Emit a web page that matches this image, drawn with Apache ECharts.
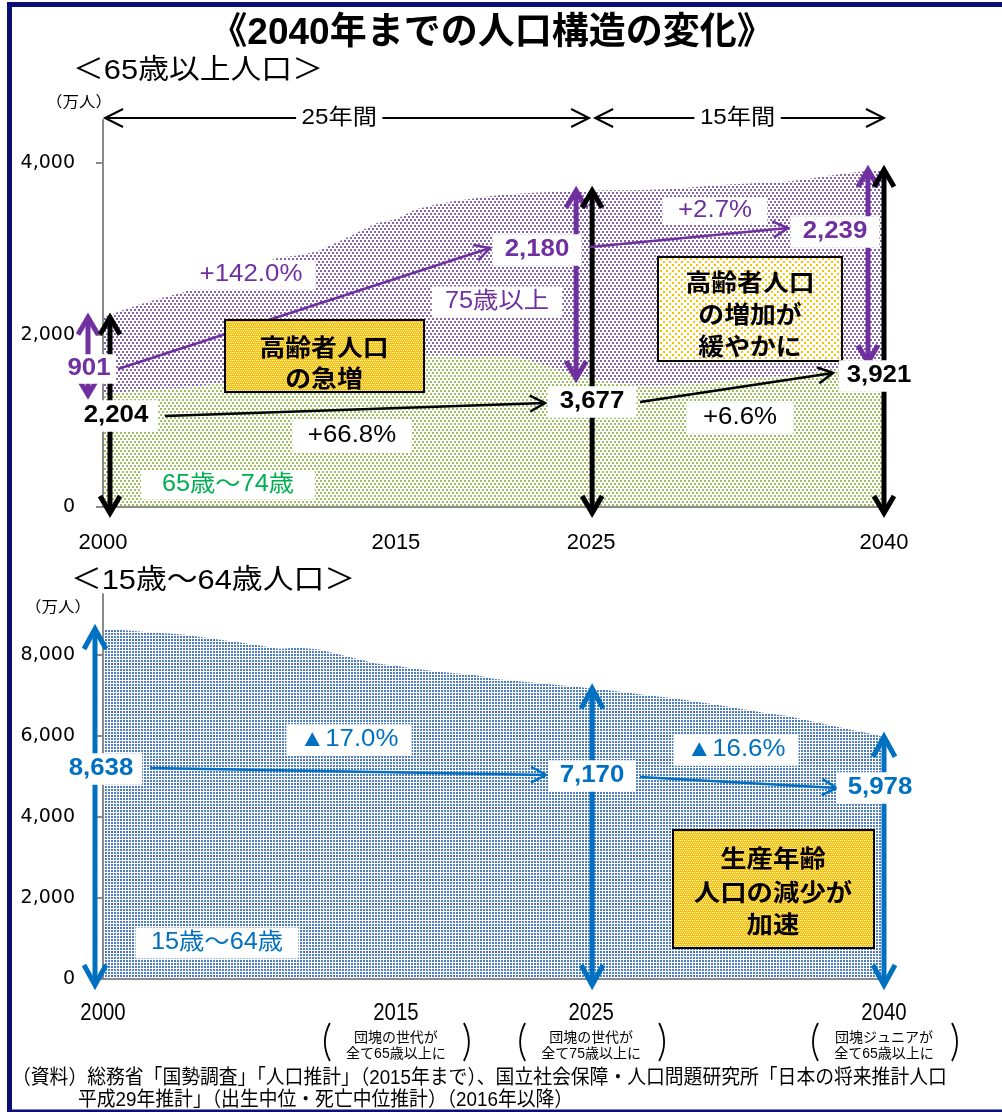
<!DOCTYPE html>
<html lang="ja">
<head>
<meta charset="utf-8">
<title>2040年までの人口構造の変化</title>
<script src="https://cdn.jsdelivr.net/npm/echarts@6/dist/echarts.min.js"></script>
<style>
  html, body { margin: 0; padding: 0; background: #ffffff; }
  #chart { width: 1002px; height: 1112px; }
</style>
</head>
<body>
<div id="chart"></div>
<script>
// ---- Data (万人) ----
const years = [2000, 2001, 2002, 2003, 2004, 2005, 2006, 2007, 2008, 2009,
               2010, 2011, 2012, 2013, 2014, 2015, 2016, 2017, 2018, 2019,
               2020, 2021, 2022, 2023, 2024, 2025, 2026, 2027, 2028, 2029,
               2030, 2031, 2032, 2033, 2034, 2035, 2036, 2037, 2038, 2039,
               2040];
// 65歳～74歳
const pop65to74 = [1303, 1338, 1359, 1376, 1378, 1407, 1443, 1476, 1500, 1530,
                   1518, 1505, 1560, 1630, 1708, 1734, 1768, 1767, 1760, 1739,
                   1747, 1760, 1699, 1619, 1550, 1497, 1455, 1424, 1413, 1417,
                   1428, 1450, 1474, 1498, 1514, 1522, 1548, 1582, 1622, 1660,
                   1682];
// 75歳以上
const pop75plus = [901, 949, 1004, 1055, 1110, 1160, 1217, 1270, 1322, 1371,
                   1407, 1470, 1519, 1560, 1592, 1613, 1691, 1748, 1798, 1849,
                   1872, 1880, 1954, 2043, 2118, 2180, 2227, 2260, 2275, 2281,
                   2288, 2283, 2275, 2265, 2260, 2260, 2264, 2263, 2255, 2245,
                   2239];
// 15歳～64歳
const pop15to64 = [8638, 8614, 8571, 8540, 8508, 8442, 8373, 8301, 8230, 8149,
                   8174, 8134, 8018, 7901, 7785, 7728, 7656, 7596, 7545, 7507,
                   7406, 7359, 7315, 7266, 7224, 7170, 7117, 7056, 6993, 6938,
                   6875, 6801, 6722, 6640, 6559, 6494, 6389, 6285, 6182, 6080,
                   5978];

const xTickYears = [2000, 2015, 2025, 2040];
const topYTicks = [0, 2000, 4000];
const bottomYTicks = [0, 2000, 4000, 6000, 8000];
const milestoneNotes = [
  [2015, '団塊の世代が', '全て65歳以上に'],
  [2025, '団塊の世代が', '全て75歳以上に'],
  [2040, '団塊ジュニアが', '全て65歳以上に']
];

// ---- Helpers ----
const LAT = '"Liberation Sans", "Noto Sans CJK JP", sans-serif';
const JP = '"Noto Sans CJK JP", sans-serif';
const PURPLE = '#7030A0', GREEN = '#00B050', BLUE = '#0070C0', BLACK = '#000000';
const AXIS_GRAY = '#8a8a8a';

function dots(w, h, bg, fg, cells) {
  const c = document.createElement('canvas');
  c.width = w; c.height = h;
  const g = c.getContext('2d');
  if (bg) { g.fillStyle = bg; g.fillRect(0, 0, w, h); }
  g.fillStyle = fg;
  cells.forEach(r => g.fillRect(r[0], r[1], r[2], r[3]));
  return { image: c, repeat: 'repeat' };
}
const purpleDots = dots(4, 6, '#ffffff', '#8265ab', [[0, 0, 2, 2], [2, 3, 2, 2]]);
const greenDots = dots(4, 6, '#ffffff', '#9dbf62', [[0, 0, 2, 2], [2, 3, 2, 2]]);
const blueDots = dots(3, 3, '#ffffff', '#507ec6', [[0, 0, 2, 2]]);
const yellowDense = dots(4, 4, '#FFC000', '#ffffff', [[0, 0, 1, 1], [2, 0, 1, 1], [1, 2, 1, 1], [3, 2, 1, 1]]);
const yellowSparse = dots(6, 6, '#ffffff', '#FFC000', [[0, 0, 2, 2], [3, 3, 2, 2]]);

const fmt = v => v.toLocaleString('en-US');
const pct = (a, b) => {
  const p = (b / a - 1) * 100;
  return (p >= 0 ? '+' : '▲') + Math.abs(p).toFixed(1) + '%';
};
const idx = yr => years.indexOf(yr);

function xAxisCfg(grid, showLabel) {
  return {
    type: 'category', gridIndex: grid, data: years.map(String), boundaryGap: false, z: 5,
    axisLine: { show: true, onZero: false, lineStyle: { color: AXIS_GRAY, width: 2 } },
    axisTick: { show: false },
    splitLine: { show: false },
    axisLabel: showLabel
      ? { interval: (i, v) => xTickYears.includes(Number(v)), margin: 25, color: '#000',
          fontSize: 22, fontFamily: '"Liberation Sans"' }
      : { show: false }
  };
}
function yAxisCfg(grid, max, ticks) {
  return {
    type: 'value', gridIndex: grid, min: 0, max: max, z: 5,
    axisLine: { show: true, onZero: false, lineStyle: { color: AXIS_GRAY, width: 2 } },
    axisTick: { show: true, length: 7, customValues: ticks, lineStyle: { color: AXIS_GRAY, width: 2 } },
    axisLabel: { customValues: ticks, margin: 28, color: '#000', fontSize: 19,
                 fontFamily: '"DejaVu Sans"', formatter: v => fmt(v) },
    splitLine: { show: false }
  };
}
function areaSeries(name, grid, values, fill) {
  return {
    name: name, type: 'line', xAxisIndex: grid, yAxisIndex: grid,
    stack: grid === 0 ? 'elderly' : 'working',
    data: values,
    symbol: 'none', showSymbol: false, silent: true, z: 2,
    lineStyle: { width: 0, opacity: 0 },
    areaStyle: { color: fill, opacity: 1 }
  };
}

const chart = echarts.init(document.getElementById('chart'), null, { renderer: 'canvas' });
chart.setOption({
  animation: false,
  backgroundColor: '#ffffff',
  grid: [
    { left: 103, right: 118, top: 120, bottom: 605 },
    { left: 103, right: 118, top: 594, bottom: 133 }
  ],
  xAxis: [xAxisCfg(0, true), xAxisCfg(1, false)],
  yAxis: [yAxisCfg(0, 4500, topYTicks), yAxisCfg(1, 9500, bottomYTicks)],
  series: [
    areaSeries('65歳～74歳', 0, pop65to74, greenDots),
    areaSeries('75歳以上', 0, pop75plus, purpleDots),
    areaSeries('15歳～64歳', 1, pop15to64, blueDots)
  ]
});

// ---- Annotation layer ----
// pixel position of (year, value); years are evenly spaced on the category axis
const P = (g, yr, v) => {
  const a = chart.convertToPixel({ gridIndex: g }, [0, v]);
  const b = chart.convertToPixel({ gridIndex: g }, [years.length - 1, v]);
  const t = (yr - years[0]) / (years[years.length - 1] - years[0]);
  return [a[0] + t * (b[0] - a[0]), a[1]];
};

function text(x, y, str, o) {
  o = o || {};
  const el = {
    type: 'text', x: x, y: y, z: o.z || 40, silent: true,
    scaleX: o.sx == null ? 1.1 : o.sx,
    style: {
      text: str, x: 0, y: 0,
      align: o.align || 'center', verticalAlign: 'middle',
      fill: o.color || BLACK,
      font: (o.bold ? 'bold ' : '') + o.size + 'px ' + (o.family || LAT)
    }
  };
  if (o.pad) { el.style.backgroundColor = '#ffffff'; el.style.padding = o.pad; }
  return el;
}
function chev(tx, ty, dx, dy, len, half, color, lw, z) {
  const bx = tx - dx * len, by = ty - dy * len, nx = -dy, ny = dx;
  return {
    type: 'polyline', z: z, silent: true,
    shape: { points: [[bx + nx * half, by + ny * half], [tx, ty], [bx - nx * half, by - ny * half]] },
    style: { stroke: color, lineWidth: lw, fill: 'none', lineJoin: 'miter', miterLimit: 10 }
  };
}
function lineArrow(x1, y1, x2, y2, color, lw, len, half, both, z) {
  const d = Math.hypot(x2 - x1, y2 - y1), dx = (x2 - x1) / d, dy = (y2 - y1) / d;
  const out = [{ type: 'line', z: z, silent: true, shape: { x1: x1, y1: y1, x2: x2, y2: y2 },
                 style: { stroke: color, lineWidth: lw } }];
  out.push(chev(x2, y2, dx, dy, len, half, color, lw, z));
  if (both) out.push(chev(x1, y1, -dx, -dy, len, half, color, lw, z));
  return out;
}
function vArrow(x, yTop, yBot, color, len, half) {
  return lineArrow(x, yBot, x, yTop, color, 5, len, half, true, 10);
}
function box(x, y, w, h, fill, lines, cx, ys, size) {
  const out = [{ type: 'rect', z: 12, silent: true, shape: { x: x, y: y, width: w, height: h },
                 style: { fill: fill, stroke: BLACK, lineWidth: 2 } }];
  lines.forEach((t, i) => out.push(text(cx, ys[i], t, { size: size, bold: true, family: JP, z: 14 })));
  return out;
}

const els = [];

// frame
els.push({ type: 'rect', z: 60, silent: true, shape: { x: 9.5, y: 4.5, width: 1000, height: 1107.5 },
           style: { fill: 'none', stroke: '#0b0f74', lineWidth: 5 } });

// titles
els.push(text(492, 34, '《2040年までの人口構造の変化》', { size: 37, bold: true, sx: 1 }));
els.push(text(198, 71, '＜65歳以上人口＞', { size: 28 }));
els.push(text(213, 581, '＜15歳～64歳人口＞', { size: 28 }));
els.push(text(79, 101, '（万人）', { size: 15, family: JP }));
els.push(text(58, 606, '（万人）', { size: 15, family: JP }));

// ---- upper chart: 65歳以上 ----
const iA = idx(2000), iB = idx(2025), iC = idx(2040);
const total65 = years.map((y, i) => pop65to74[i] + pop75plus[i]);
const [xA, yZero0] = P(0, 2000, 0);
const xB = P(0, 2025, 0)[0], xC = P(0, 2040, 0)[0];
const ySpan = P(0, 2000, 4500)[1] - 2;
els.push(...lineArrow(xA + 2, ySpan, xB - 2, ySpan, BLACK, 2, 18, 9, true, 10));
els.push(...lineArrow(xB + 4, ySpan, xC, ySpan, BLACK, 2, 18, 9, true, 10));
els.push(text(P(0, 2012.1, 0)[0], ySpan, '25年間', { size: 22, pad: [0, 5] }));
els.push(text(P(0, 2032.5, 0)[0], ySpan, '15年間', { size: 22, pad: [0, 5] }));

const yT = (yr, v) => P(0, yr, v)[1];
// vertical span arrows (75歳以上 band and 65歳以上 total)
els.push(...vArrow(xA - 15, yT(2000, total65[iA]), yT(2000, pop65to74[iA]), PURPLE, 17, 10));
els.push(...vArrow(xA + 7, yT(2000, total65[iA]), yZero0 + 6, BLACK, 17, 10));
els.push(...vArrow(xB - 15, yT(2025, total65[iB]), yT(2025, pop65to74[iB]), PURPLE, 17, 10));
els.push(...vArrow(xB + 1, yT(2025, total65[iB]), yZero0 + 6, BLACK, 17, 10));
els.push(...vArrow(xC - 16, yT(2040, total65[iC]), yT(2040, pop65to74[iC]), PURPLE, 17, 10));
els.push(...vArrow(xC, yT(2040, total65[iC]), yZero0 + 6, BLACK, 17, 10));

// change arrows
els.push(...lineArrow(118, 369, 490, 248, PURPLE, 2.5, 15, 8, false, 10));
els.push(...lineArrow(590, 247, 788, 228, PURPLE, 2.5, 15, 8, false, 10));
els.push(...lineArrow(165, 416, 545, 403, BLACK, 2.5, 15, 8, false, 10));
els.push(...lineArrow(640, 402, 833, 373, BLACK, 2.5, 15, 8, false, 10));

// boxes
els.push(...box(225, 320, 199, 72, yellowDense, ['高齢者人口', 'の急増'], 324, [347, 378], 23.5));
els.push(...box(658, 257, 184, 104, yellowSparse, ['高齢者人口', 'の増加が', '緩やかに'], 750, [282, 314, 346], 23.5));

// value labels
els.push(text(89, 369, fmt(pop75plus[iA]), { size: 23.5, bold: true, color: PURPLE, pad: [3, 5] }));
els.push(text(116, 416, fmt(total65[iA]), { size: 23.5, bold: true, pad: [4, 9] }));
els.push(text(537, 250, fmt(pop75plus[iB]), { size: 23.5, bold: true, color: PURPLE, pad: [4, 11] }));
els.push(text(592, 402, fmt(total65[iB]), { size: 23.5, bold: true, pad: [4, 11] }));
els.push(text(835, 232, fmt(pop75plus[iC]), { size: 23.5, bold: true, color: PURPLE, pad: [4, 11] }));
els.push(text(879, 376, fmt(total65[iC]), { size: 23.5, bold: true, pad: [4, 7] }));
els.push(text(251, 275, pct(pop75plus[iA], pop75plus[iB]), { size: 23.5, color: PURPLE, pad: [3, 12] }));
els.push(text(352, 436, pct(total65[iA], total65[iB]), { size: 23.5, pad: [5, 14] }));
els.push(text(715, 211, pct(pop75plus[iB], pop75plus[iC]), { size: 23.5, color: PURPLE, pad: [2, 14] }));
els.push(text(740, 418, pct(total65[iB], total65[iC]), { size: 23.5, pad: [4, 15] }));
els.push(text(497, 302, '75歳以上', { size: 23, color: PURPLE, pad: [4, 12] }));
els.push(text(228, 485, '65歳～74歳', { size: 23, color: GREEN, pad: [3, 19] }));

// ---- lower chart: 15歳～64歳 ----
const yZero1 = P(1, 2000, 0)[1];
const yB = (yr, v) => P(1, yr, v)[1];
els.push(...vArrow(xA - 8, yB(2000, pop15to64[iA]), yZero1 + 6, BLUE, 20, 11));
els.push(...vArrow(xB + 1, yB(2025, pop15to64[iB]), yZero1 + 6, BLUE, 20, 11));
els.push(...vArrow(xC, yB(2040, pop15to64[iC]), yZero1 + 6, BLUE, 20, 11));
els.push(...lineArrow(150, 768, 546, 775, BLUE, 2.5, 15, 8, false, 10));
els.push(...lineArrow(640, 777, 837, 788, BLUE, 2.5, 15, 8, false, 10));
els.push(...box(673, 830, 201, 118, yellowDense, ['生産年齢', '人口の減少が', '加速'], 773, [858, 892, 924], 24));
els.push(text(101, 769, fmt(pop15to64[iA]), { size: 23.5, bold: true, color: BLUE, pad: [4, 8] }));
els.push(text(592, 776, fmt(pop15to64[iB]), { size: 23.5, bold: true, color: BLUE, pad: [4, 10] }));
els.push(text(880, 788, fmt(pop15to64[iC]), { size: 23.5, bold: true, color: BLUE, pad: [4, 10] }));
els.push(text(349, 740, pct(pop15to64[iA], pop15to64[iB]), { size: 23.5, color: BLUE, pad: [4, 12] }));
els.push(text(736, 750, pct(pop15to64[iB], pop15to64[iC]), { size: 23.5, color: BLUE, pad: [4, 12] }));
els.push(text(217, 943, '15歳～64歳', { size: 23, color: BLUE, pad: [4, 14] }));

// lower x-axis labels with notes
xTickYears.forEach(yr => {
  els.push(text(P(1, yr, 0)[0], yZero1 + 34, String(yr), { size: 24, sx: 0.85, family: '"Liberation Sans"' }));
});
milestoneNotes.forEach(([yr, l1, l2]) => {
  const cx = P(1, yr, 0)[0];
  els.push(text(cx, 1037, l1, { size: 14, sx: 1, family: JP }));
  els.push(text(cx, 1054, l2, { size: 14, sx: 1, family: LAT }));
  const lx = cx - 70, rx = cx + 72;
  els.push({ type: 'bezierCurve', z: 20, silent: true,
             shape: { x1: lx + 4, y1: 1023, x2: lx + 4, y2: 1061, cpx1: lx - 6, cpy1: 1042 },
             style: { stroke: BLACK, lineWidth: 1.8, fill: 'none' } });
  els.push({ type: 'bezierCurve', z: 20, silent: true,
             shape: { x1: rx - 4, y1: 1023, x2: rx - 4, y2: 1061, cpx1: rx + 6, cpy1: 1042 },
             style: { stroke: BLACK, lineWidth: 1.8, fill: 'none' } });
});

// source note
els.push(text(12, 1078, '（資料）総務省「国勢調査」「人口推計」（2015年まで）、国立社会保障・人口問題研究所「日本の将来推計人口',
              { size: 20, sx: 0.94, align: 'left' }));
els.push(text(78, 1100, '平成29年推計」（出生中位・死亡中位推計）（2016年以降）',
              { size: 20, sx: 0.94, align: 'left' }));

chart.setOption({ graphic: { elements: els } });
</script>
</body>
</html>
